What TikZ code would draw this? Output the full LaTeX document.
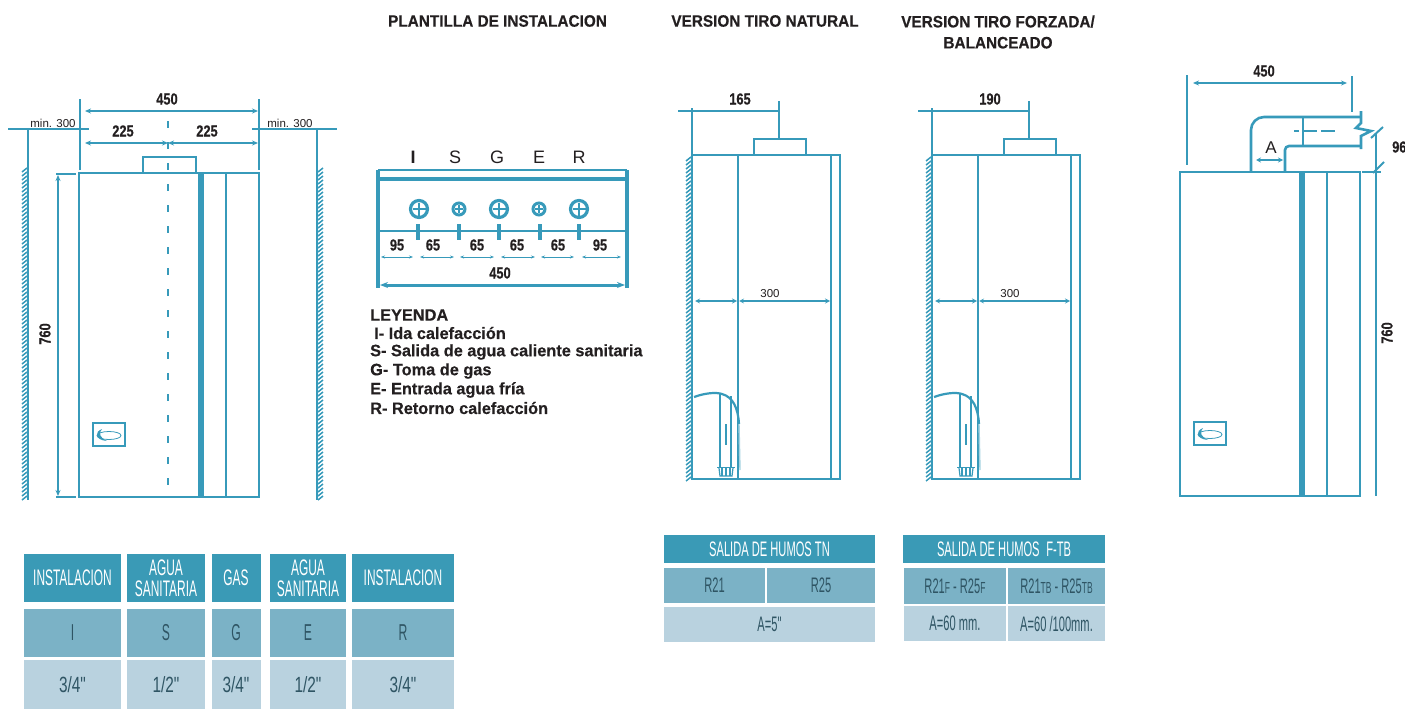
\documentclass[tikz,border=0pt]{standalone}
\usepackage{fontspec}
\setmainfont{Liberation Sans}
\newfontfamily\condfont[FakeStretch=0.8,FakeBold=0.4]{Liberation Sans}
\newfontfamily\titlefont[FakeStretch=0.93,FakeBold=0.4]{Liberation Sans}
\newfontfamily\legendfont[FakeStretch=0.99,FakeBold=0.4]{Liberation Sans}
\newfontfamily\tabfont[FakeStretch=0.53]{Liberation Sans}
\newfontfamily\lowfont[FakeStretch=0.7]{Liberation Sans}
\usepackage{xcolor}
\usetikzlibrary{positioning,arrows.meta}
\definecolor{plan}{HTML}{379ABA}
\definecolor{tabhead}{HTML}{3A9AB6}
\definecolor{tabmid}{HTML}{7BB2C6}
\definecolor{tablight}{HTML}{B9D2DF}
\definecolor{ink}{HTML}{231F20}
\definecolor{tabink}{HTML}{2F5564}

\begin{document}
\begin{tikzpicture}[x=1pt,y=-1pt,>=stealth,line cap=butt]
  \tikzstyle{line}=[draw=plan,line width=2.8pt]
  \tikzstyle{heavy}=[draw=plan,line width=6pt]
  \tikzstyle{thinline}=[draw=plan,line width=1.2pt]
  \tikzstyle{dimline}=[draw=plan,line width=1.8pt,<->,>={Stealth[length=6pt,width=5pt]}]
  \tikzstyle{hatch}=[draw=plan,line width=1.5pt]
  \tikzstyle{title}=[text=ink,inner sep=0pt,font=\titlefont\bfseries\fontsize{16.5}{21}\selectfont,align=center]
  \tikzstyle{dimtext}=[text=ink,inner sep=0pt,font=\condfont\bfseries\fontsize{16}{17}\selectfont]
  \tikzstyle{smalltext}=[text=ink,inner sep=0pt,font=\fontsize{11.5}{13}\selectfont]
  \tikzstyle{letter}=[text=ink,inner sep=0pt,font=\fontsize{18}{20}\selectfont]
  \tikzstyle{legend}=[text=ink,inner sep=0pt,anchor=west,font=\legendfont\bfseries\fontsize{16.5}{18}\selectfont]
  \tikzstyle{cellhead}=[fill=tabhead,text=white,inner sep=0pt,align=center,font=\tabfont\fontsize{22.5}{21}\selectfont]
  \tikzstyle{cellmid}=[fill=tabmid,text=tabink,inner sep=0pt,align=center,font=\tabfont\fontsize{23}{20}\selectfont]
  \tikzstyle{celllight}=[fill=tablight,text=tabink,inner sep=0pt,align=center,font=\lowfont\fontsize{22}{20}\selectfont]
  \tikzstyle{smallcell}=[font=\tabfont\fontsize{21}{20}\selectfont]

  \useasboundingbox (0,0) rectangle (1405,709);

  % titles
  \node[title] (plantilla) at (497.5,21) {PLANTILLA DE INSTALACION};
  \node[title] (natural) at (765,21) {VERSION TIRO NATURAL};
  \node[title] (forzada) at (998,32) {VERSION TIRO FORZADA/\\BALANCEADO};

  % left boiler
  \draw[line] (79,173) rectangle (259,497);
  \draw[line] (143,157) rectangle (196,173);
  \draw[heavy] (201,173) -- (201,497);
  \draw[line] (226,173) -- (226,497);
  \draw[thinline,line width=1.5pt,dash pattern=on 7pt off 14pt] (168,121) -- (168,497);
  \draw[line] (80,99) -- (80,170);
  \draw[line] (259,99) -- (259,170);
  \draw[dimline] (85,111) -- (258,111);
  \draw[dimline] (85,143) -- (168,143);
  \draw[dimline] (168,143) -- (258,143);
  \node[dimtext] (ancho) at (167,99) {450};
  \node[dimtext] (mitadA) at (123,131) {225};
  \node[dimtext] (mitadB) at (207,131) {225};
  \draw[line] (8,129) -- (89,129);
  \draw[line] (252,129) -- (337,129);
  \node[smalltext] (minA) at (53,123) {min. 300};
  \node[smalltext] (minB) at (290,123) {min. 300};
  \draw[line] (28,129) -- (28,500);
  \draw[line] (317,129) -- (317,500);
  \foreach \y in {168,172,...,496} {
    \draw[hatch] (22,\y+4) -- (27,\y);
    \draw[hatch] (318,\y+4) -- (323,\y);
  }
  \draw[line] (56,174) -- (76,174);
  \draw[line] (56,497) -- (76,497);
  \draw[dimline] (58,175) -- (58,496);
  \node[dimtext,rotate=90] (altoA) at (45,334) {760};

  % logos
  \foreach \lx/\ly in {93/423,1194/422} {
    \draw[thinline] (\lx,\ly) rectangle (\lx+32,\ly+23);
    \draw[thinline,line width=.8pt] (\lx+16,\ly+12.5) ellipse (12 and 4);
    \fill[plan] (\lx+9,\ly+6) .. controls (\lx+1,\ly+9) and (\lx+2,\ly+17) .. (\lx+14,\ly+18) .. controls (\lx+7,\ly+15) and (\lx+5,\ly+10) .. (\lx+9,\ly+6);
  }

  % plate
  \foreach \l/\x in {S/455,G/497,E/539,R/579}
    \node[letter] (let\l) at (\x,157) {\l};
  \node[letter,font=\bfseries\fontsize{18}{20}\selectfont] (letI) at (413,157) {I};
  \draw[line,line width=2.4pt] (378,170) -- (627,170);
  \draw[line,line width=4pt] (378,179) -- (627,179);
  \draw[line,line width=3.5pt] (378,170) -- (378,288);
  \draw[line,line width=3.5pt] (627,170) -- (627,288);
  \draw[line] (378,231) -- (627,231);
  \foreach \x/\r/\w in {419/8.5/3.2,459/6/3,499/8.5/3.2,539/6/3,579/8.5/3.2} {
    \draw[line,line width=\w] (\x,209) circle (\r);
    \draw[thinline,line width=1.5pt] (\x-\r+2,209) -- (\x+\r-2,209);
    \draw[thinline,line width=1.5pt] (\x,209-\r+2) -- (\x,209+\r-2);
  }
  \foreach \x in {418,459,499,540,579}
    \draw[line,line width=4pt] (\x,224) -- (\x,240);
  \foreach \n/\t/\x in {a/95/397,b/65/433,c/65/477,d/65/517,e/65/558,f/95/600}
    \node[dimtext] (cota\n) at (\x,245) {\t};
  \foreach \xa/\xb in {381/413,420/454,460/494,501/535,541/574,582/621}
    \draw[thinline,line width=.9pt,<->,>={Stealth[length=4pt,width=3pt]}] (\xa,257) -- (\xb,257);
  \node[dimtext] (total) at (500,273) {450};
  \draw[dimline,line width=3pt,>={Stealth[length=8pt,width=6pt]}] (380,285) -- (625,285);

  % legend
  \node[legend] (leyenda) at (370,315) {LEYENDA};
  \node[legend] (ida) at (374,333) {I- Ida calefacción};
  \node[legend] (salida) at (370,352) {S- Salida de agua caliente sanitaria};
  \node[legend] (gas) at (370,371) {G- Toma de gas};
  \node[legend] (fria) at (370,390) {E- Entrada agua fría};
  \node[legend] (retorno) at (370,408) {R- Retorno calefacción};

  % natural and forced versions
  \foreach \dx/\cx/\xl/\t in {0/779/678/165,240/1029/918/190} {
    \begin{scope}[xshift=\dx]
      \draw[line] (692,155) rectangle (840,479);
      \draw[line] (692,108) -- (692,155);
      \draw[line] (738,155) -- (738,479);
      \draw[line] (831,155) -- (831,479);
      \foreach \y in {157,161,...,477}
        \draw[hatch] (686,\y+4) -- (691,\y);
      \draw[thinline,<->] (695,301) -- (737,301);
      \draw[thinline,<->] (739,301) -- (830,301);
      \node[smalltext] (tres\t) at (770,294) {300};
      \draw[line,line width=2.2pt] (694,397) .. controls (705,393) and (716,392) .. (722,394) .. controls (733,397) and (738,408) .. (739,424);
      \draw[thinline,draw=plan!45,line width=1.4pt] (739,424) -- (740,470);
      \draw[thinline] (720,394) -- (720,467);
      \draw[thinline] (731,396) -- (731,467);
      \draw[line,line width=1.8pt] (726,424) -- (726,445);
      \draw[line,line width=1.8pt] (717,467.5) -- (735,467.5);
      \draw[thinline] (719,468) -- (720,476) -- (732,476) -- (733,468);
      \foreach \x in {722,726,730}
        \draw[thinline] (\x,468) -- (\x,476);
    \end{scope}
    \draw[line] (\xl,111) -- (\cx,111);
    \draw[line] (\cx,101) -- (\cx,139);
    \draw[line] (\cx-25,139) rectangle (\cx+27,155);
    \node[dimtext] (cota\t) at (\cx-39,99) {\t};
  }

  % right boiler
  \draw[line] (1180,172) rectangle (1360,496);
  \draw[heavy] (1302,172) -- (1302,496);
  \draw[line] (1327,172) -- (1327,496);
  \draw[line] (1187,75) -- (1187,165);
  \draw[line] (1352,76) -- (1352,112);
  \draw[dimline,line width=2.6pt] (1193,83) -- (1347,83);
  \node[dimtext] (anchoB) at (1264,71) {450};
  \draw[line,line width=2.6pt,rounded corners=13pt] (1251,172) -- (1251,117) -- (1361,117);
  \draw[line,line width=2.6pt,rounded corners=4pt] (1285,172) -- (1285,146) -- (1361,146);
  \draw[line,line width=2.6pt] (1361,111) -- (1361,123) -- (1356,128) -- (1371,131) -- (1361,136) -- (1361,149);
  \draw[line] (1303,117) -- (1303,146);
  \draw[line,dash pattern=on 5pt off 4pt on 14pt off 4pt on 14pt off 100pt] (1294,131) -- (1351,131);
  \node[smalltext,font=\fontsize{17}{19}\selectfont] (letA) at (1271,148) {A};
  \draw[dimline,line width=2pt,>={Stealth[length=5pt,width=5pt]}] (1256,160) -- (1283,160);
  \draw[line] (1362,172) -- (1381,172);
  \draw[line] (1376,134) -- (1376,496);
  \draw[line,line width=2pt] (1371,138) -- (1383,127);
  \draw[line,line width=2pt] (1373,173) -- (1384,162);
  \node[dimtext,anchor=west] (altoC) at (1392,147) {96};
  \node[dimtext,rotate=90] (altoB) at (1387,333) {760};

  % left table
  \foreach \n/\cx/\w/\hd/\md/\lw in {a/72.5/97/INSTALACION/I/{3/4"},b/166/78/{AGUA\\SANITARIA}/S/{1/2"},c/236/49/GAS/G/{3/4"},d/308/76/{AGUA\\SANITARIA}/E/{1/2"},e/403/102/INSTALACION/R/{3/4"}} {
    \node[cellhead,minimum width=\w,minimum height=48] (head\n) at (\cx,578) {\hd};
    \node[cellmid,minimum width=\w,minimum height=48] (mid\n) at (\cx,633) {\md};
    \node[celllight,minimum width=\w,minimum height=49] (low\n) at (\cx,684.5) {\lw};
  }

  % TN table
  \node[cellhead,smallcell,minimum width=211,minimum height=28] (headTN) at (769.5,549) {SALIDA DE HUMOS TN};
  \node[cellmid,smallcell,minimum width=101,minimum height=35] (midTNa) at (714.5,585.5) {R21};
  \node[cellmid,smallcell,minimum width=108,minimum height=35] (midTNb) at (821,585.5) {R25};
  \node[celllight,smallcell,minimum width=211,minimum height=35] (lowTN) at (769.5,624.5) {A=5"};

  % F-TB table
  \node[cellhead,smallcell,minimum width=202,minimum height=28] (headTB) at (1004,549) {SALIDA DE HUMOS\, F-TB};
  \node[cellmid,smallcell,minimum width=102,minimum height=36] (midTBa) at (955,586) {R21{\fontsize{16}{17}\selectfont F} - R25{\fontsize{16}{17}\selectfont F}};
  \node[cellmid,smallcell,minimum width=97,minimum height=36] (midTBb) at (1056.5,586) {R21{\fontsize{16}{17}\selectfont TB} - R25{\fontsize{16}{17}\selectfont TB}};
  \node[celllight,smallcell,minimum width=102,minimum height=35] (lowTBa) at (955,623.5) {A=60 mm.};
  \node[celllight,smallcell,minimum width=97,minimum height=35] (lowTBb) at (1056.5,623.5) {A=60 /100mm.};
\end{tikzpicture}
\end{document}
